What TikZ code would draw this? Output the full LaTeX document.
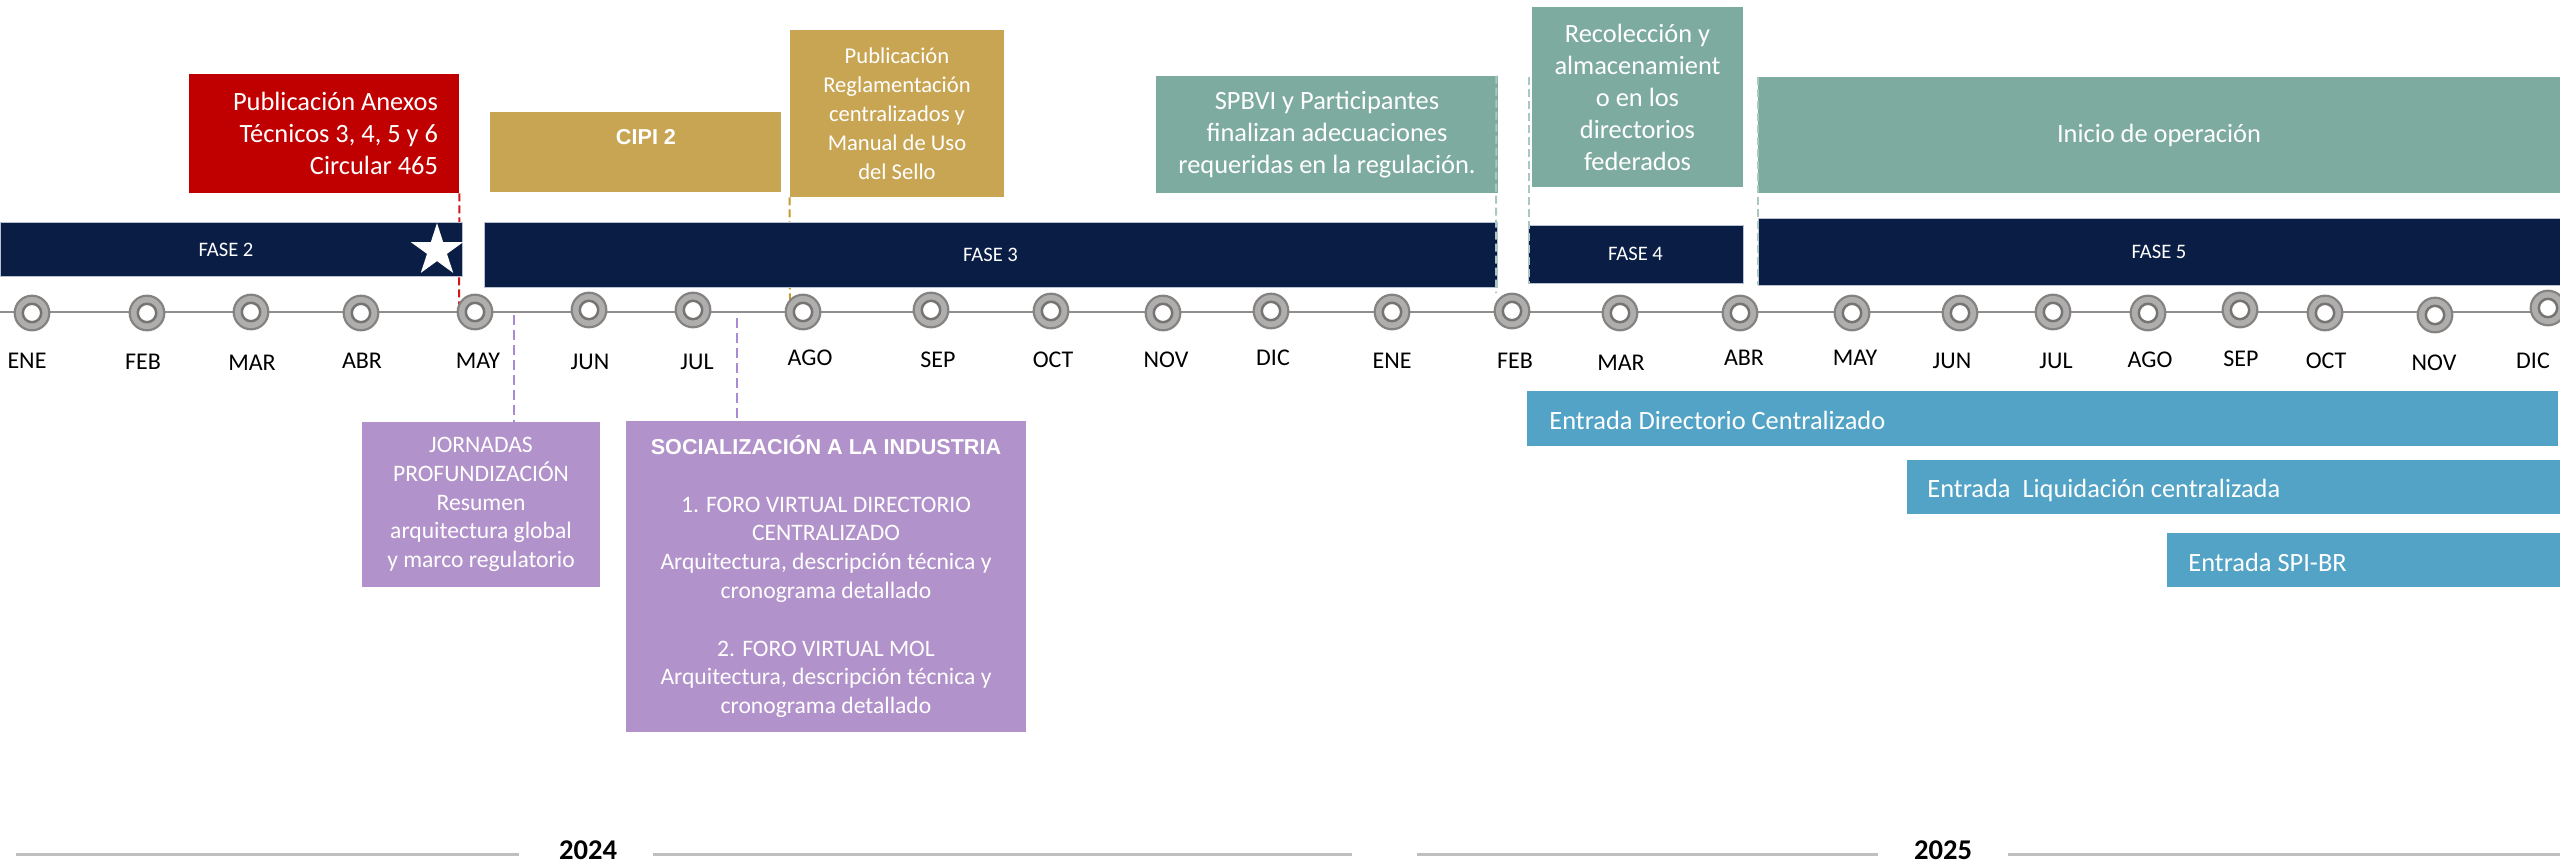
\documentclass[tikz,border=0pt]{standalone}
\usepackage{fontspec}
\setmainfont{Carlito}
\newfontfamily\arialfont{Liberation Sans}
\usetikzlibrary{fit}
\definecolor{navy}{HTML}{0A1D45}
\definecolor{navyedge}{HTML}{B8C2D3}
\definecolor{redbox}{HTML}{C00000}
\definecolor{goldbox}{HTML}{C8A553}
\definecolor{tealbox}{HTML}{7EAB9F}
\definecolor{purplebox}{HTML}{B292CA}
\definecolor{bluebox}{HTML}{52A3C6}
\definecolor{ringfill}{HTML}{B0ADAD}
\definecolor{ringedge}{HTML}{858282}
\definecolor{holeedge}{HTML}{767373}
\definecolor{tlgray}{HTML}{8E8E8E}
\definecolor{yeargray}{HTML}{BFBFBF}
\definecolor{purpledash}{HTML}{A98BD3}
\definecolor{tealdash}{HTML}{A9C9BF}
\definecolor{golddash}{HTML}{C49A2C}
\definecolor{reddash}{HTML}{D01818}
\begin{document}
\begin{tikzpicture}[x=0.5pt,y=-0.5pt,
  boxbase/.style={inner sep=0pt},
  fasebar/.style={boxbase, fill=navy, draw=navyedge, line width=0.4pt},
  txt/.style={inner sep=0pt, text=white, align=center},
  fasetxt/.style={txt, font=\fontsize{10.3}{12}\selectfont},
  bigtxt/.style={txt, font=\fontsize{13.2}{16}\selectfont},
  goldtxt/.style={txt, font=\fontsize{11.3}{14.5}\selectfont},
  midtxt/.style={txt, font=\fontsize{11.8}{14.4}\selectfont},
  boldsans/.style={txt, font=\arialfont\bfseries\fontsize{10.8}{13}\selectfont},
  monthlbl/.style={font=\fontsize{12}{14}\selectfont, anchor=base, inner sep=0pt},
  ringout/.style={circle, inner sep=0pt, minimum size=17.3pt, fill=ringfill, draw=ringedge, line width=1.1pt},
  ringin/.style={circle, inner sep=0pt, minimum size=9.2pt, fill=white, draw=holeedge, line width=1.25pt},
  dashbase/.style={line width=1pt, dash pattern=on 4pt off 2pt},
  yearline/.style={draw=yeargray, line width=1.5pt},
  yearlbl/.style={font=\bfseries\fontsize{14.3}{16}\selectfont, anchor=base, inner sep=0pt}
]
\useasboundingbox (0,0) rectangle (2560,864);

% timeline base line
\coordinate (tlL) at (0,312);
\coordinate (tlR) at (2560,312);
\draw[tlgray, line width=1pt] (tlL) -- (tlR);

% boxes above
\node[boxbase, fill=redbox, fit={(189,74) (459,193)}] (red) {};
\node[boxbase, fill=goldbox, fit={(490,112) (781,192)}] (cipi) {};
\node[boxbase, fill=goldbox, fit={(790,30) (1004,197)}] (gold) {};
\node[boxbase, fill=tealbox, fit={(1156,76) (1498,193)}] (spbvi) {};
\node[boxbase, fill=tealbox, fit={(1532,7) (1743,187)}] (recol) {};
\node[boxbase, fill=tealbox, fit={(1758,77) (2560,193)}] (inicio) {};

% end points of dashed connectors
\coordinate (redEnd) at (459,305);
\coordinate (goldEnd) at (790,300);
\coordinate (pj) at (514,315);
\coordinate (ps) at (737,318);

% purple boxes below
\node[boxbase, fill=purplebox, fit={(362,422) (600,587)}] (jorn) {};
\node[boxbase, fill=purplebox, fit={(626,421) (1026,732)}] (soc) {};

% dashed connectors drawn behind bars
\draw[dashbase, reddash] (red.south east) -- (redEnd);
\draw[dashbase, golddash] (gold.south west) -- (goldEnd);
\draw[purpledash, line width=0.8pt, dash pattern=on 5pt off 2.5pt] (pj) -- (pj |- jorn.north);
\draw[purpledash, line width=0.8pt, dash pattern=on 5pt off 2.5pt] (ps) -- (ps |- soc.north);

% circles
\foreach \x/\y [count=\i] in {32/313,147/313,251/312,361/313,475/312,589/310,693/310,803/312,931/310,1051/311,1163/313,1271/311,1392/312,1512/311,1620/313,1740/313,1852/313,1960/313,2053/312,2148/313,2240/310,2325/313,2435/315,2548/308}{
  \node[ringout] (c\i) at (\x,\y) {};
  \node[ringin] (h\i) at (c\i.center) {};
}

% month labels
\foreach \x/\y/\t [count=\i] in {27/368/ENE,143/369/FEB,252/370/MAR,362/368/ABR,478/368/MAY,590/369/JUN,697/369/JUL,810/365/AGO,938/367/SEP,1053/367/OCT,1166/367/NOV,1273/365/DIC,1392/368/ENE,1515/368/FEB,1621/370/MAR,1744/365/ABR,1855/365/MAY,1952/368/JUN,2056/368/JUL,2150/367/AGO,2241/366/SEP,2326/368/OCT,2434/370/NOV,2533/368/DIC}{
  \node[monthlbl] (m\i) at (\x,\y) {\t};
}

% phase bars
\node[fasebar, fit={(0,222) (462,276)}] (f2) {};
\node[fasebar, fit={(484,222) (1497,287)}] (f3) {};
\node[fasebar, fit={(1528,225) (1743,283)}] (f4) {};
\node[fasebar, fit={(1758,218) (2560,285)}] (f5) {};
\node[fasetxt] (f2t) at (226,250) {FASE 2};
\node[fasetxt] (f3t) at (f3.center) {FASE 3};
\node[fasetxt] (f4t) at (f4.center) {FASE 4};
\node[fasetxt] (f5t) at (f5.center) {FASE 5};

% star
\fill[white, shift={(437,250.6)}] (-90:27.6) -- (-54:10.5) -- (-18:27.6) -- (18:10.5) -- (54:27.6) -- (90:10.5) -- (126:27.6) -- (162:10.5) -- (198:27.6) -- (234:10.5) -- cycle;

% teal dashed connectors (on top)
\coordinate (spEnd) at (1496,293);
\coordinate (rcTop) at (1529,77);
\coordinate (rcBot) at (1529,283);
\coordinate (inTop) at (1758,77);
\coordinate (inBot) at (1758,285);
\draw[dashbase, tealdash] ([xshift=-1pt]spbvi.north east) -- (spEnd);
\draw[dashbase, tealdash] (rcTop) -- (rcBot);
\draw[dashbase, tealdash] (inTop) -- (inBot);

% texts of boxes
\node[bigtxt, align=right, anchor=east] (redtext) at ([xshift=-10.5pt]red.east) {Publicación Anexos\\Técnicos 3, 4, 5 y 6\\Circular 465};
\node[boldsans] (cipitext) at (646,137) {CIPI 2};
\node[goldtxt] (goldtext) at (gold.center) {Publicación\\Reglamentación\\centralizados y\\Manual de Uso\\del Sello};
\node[bigtxt] (spbvitext) at (spbvi.center) {SPBVI y Participantes\\finalizan adecuaciones\\requeridas en la regulación.};
\node[bigtxt] (recoltext) at (recol.center) {Recolección y\\almacenamient\\o en los\\directorios\\federados};
\node[bigtxt] (iniciotext) at (inicio.center) {Inicio de operación};
\node[midtxt] (jorntext) at (jorn.center) {JORNADAS\\PROFUNDIZACIÓN\\Resumen\\arquitectura global\\y marco regulatorio};
\node[midtxt] (soctext) at (soc.center) {{\arialfont\bfseries\fontsize{10.8}{14.4}\selectfont SOCIALIZACIÓN A LA INDUSTRIA}\\[14.4pt]1. FORO VIRTUAL DIRECTORIO\\CENTRALIZADO\\Arquitectura, descripción técnica y\\cronograma detallado\\[14.4pt]2. FORO VIRTUAL MOL\\Arquitectura, descripción técnica y\\cronograma detallado};

% entry bars
\node[boxbase, fill=bluebox, fit={(1527,391) (2558,446)}] (e1) {};
\node[boxbase, fill=bluebox, fit={(1907,460) (2560,514)}] (e2) {};
\node[boxbase, fill=bluebox, fit={(2167,533) (2560,587)}] (e3) {};
\node[bigtxt, anchor=base west] (e1t) at (1549,429) {Entrada Directorio Centralizado};
\node[bigtxt, anchor=base west] (e2t) at (1927,497) {Entrada\ \ Liquidación centralizada};
\node[bigtxt, anchor=base west] (e3t) at (2188,571) {Entrada SPI-BR};

% years
\coordinate (a1) at (16,854); \coordinate (a2) at (519,854);
\coordinate (a3) at (653,854); \coordinate (a4) at (1352,854);
\coordinate (b1) at (1417,854); \coordinate (b2) at (1878,854);
\coordinate (b3) at (2008,854); \coordinate (b4) at (2560,854);
\draw[yearline] (a1) -- (a2);
\draw[yearline] (a3) -- (a4);
\draw[yearline] (b1) -- (b2);
\draw[yearline] (b3) -- (b4);
\node[yearlbl] (y2024) at (588,859) {2024};
\node[yearlbl] (y2025) at (1943,859) {2025};
\end{tikzpicture}
\end{document}
